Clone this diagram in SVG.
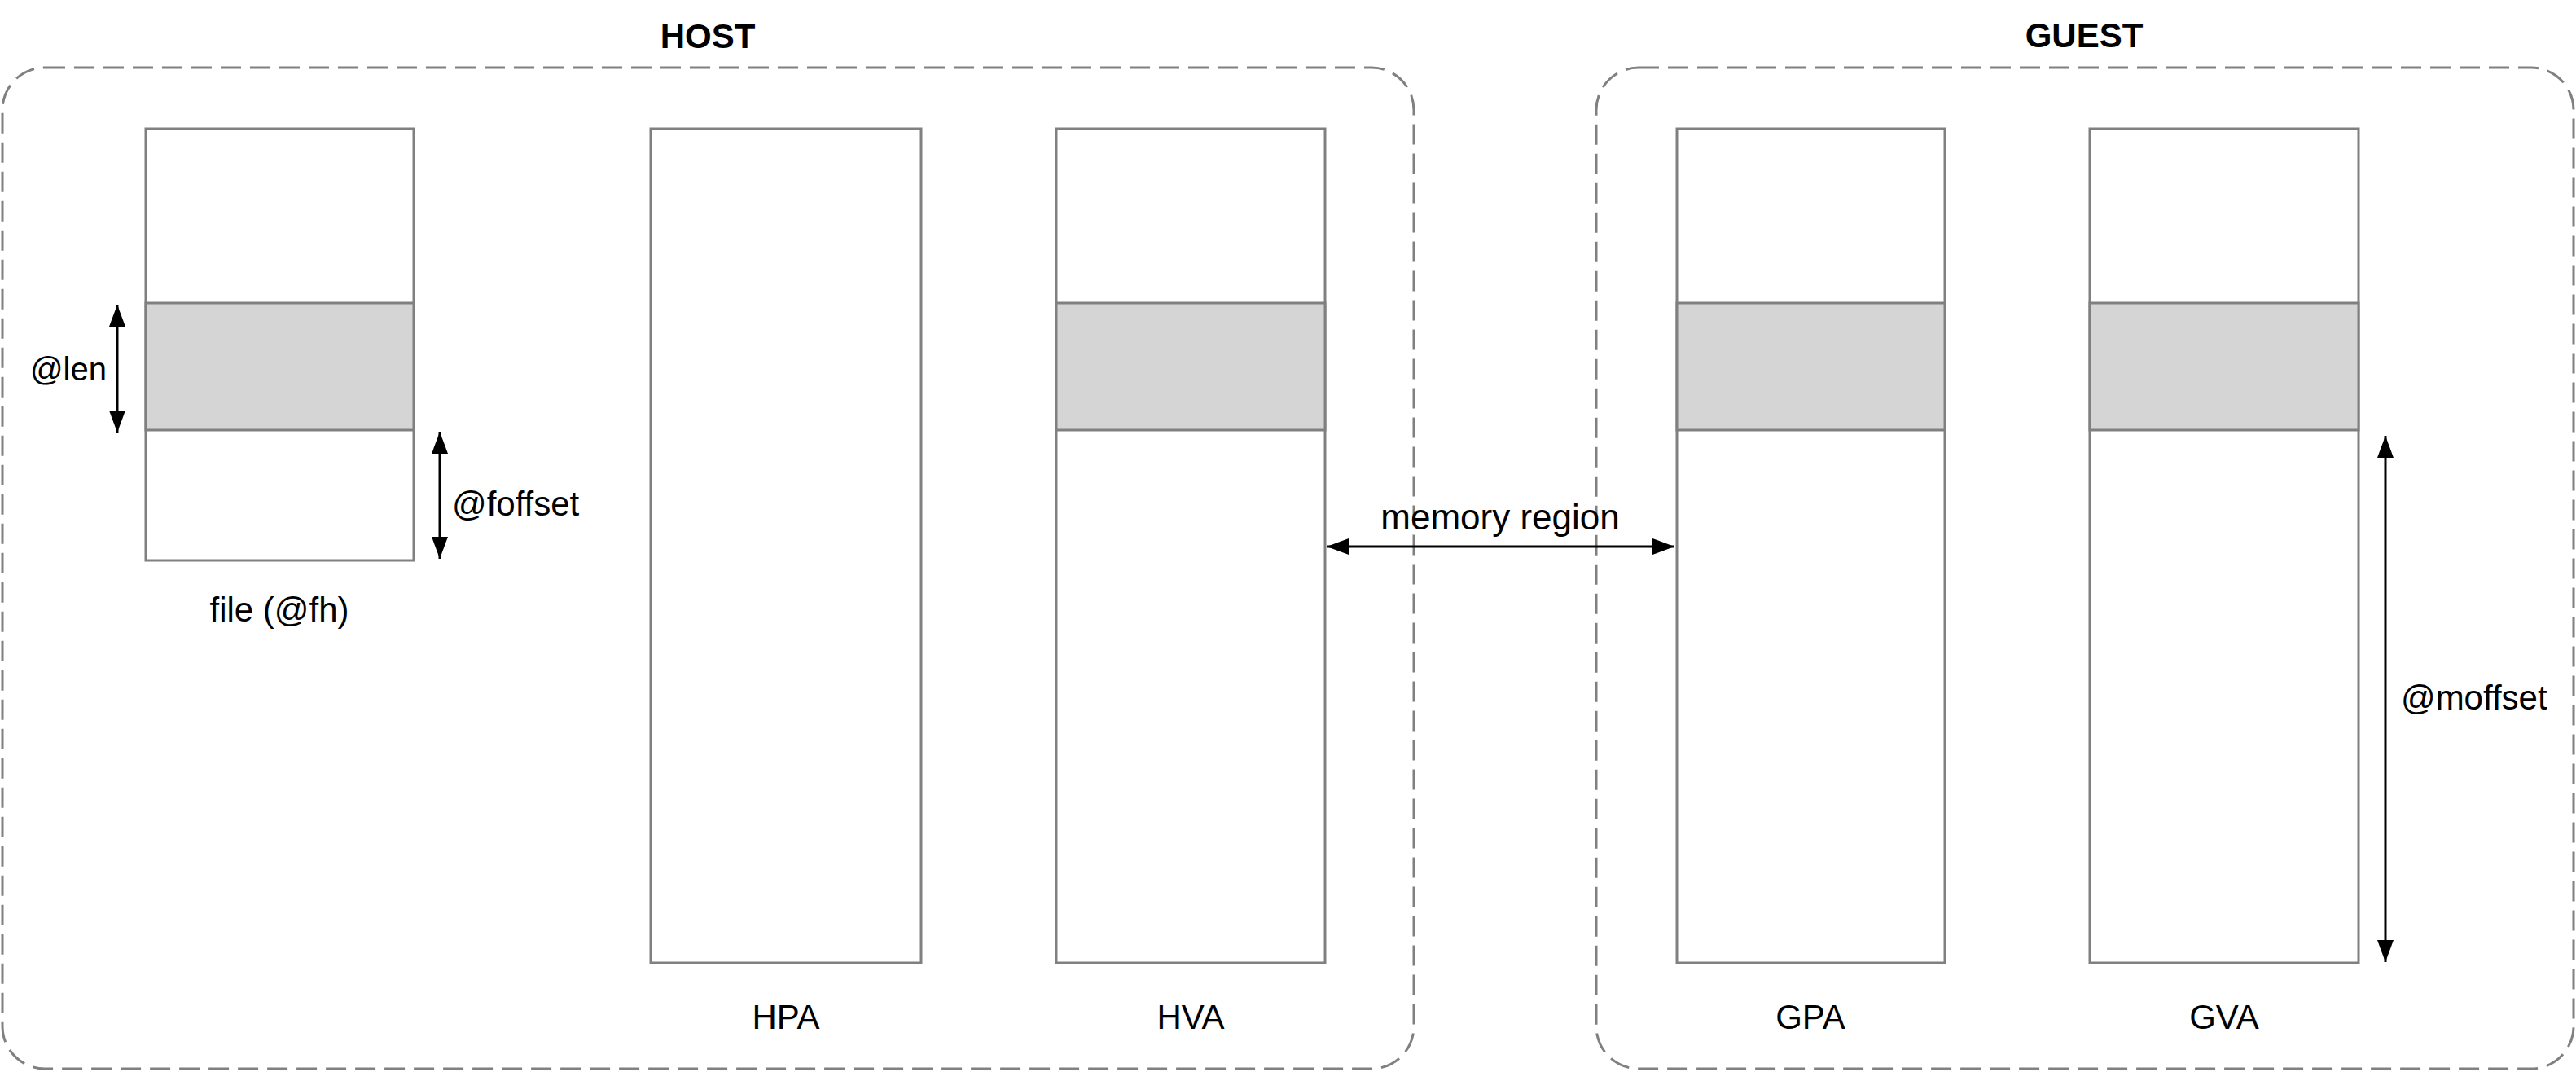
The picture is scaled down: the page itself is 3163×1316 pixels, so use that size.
<svg xmlns="http://www.w3.org/2000/svg" width="3163" height="1316" viewBox="0 0 3163 1316">
  <style>
    .container { fill: none; stroke: #808080; stroke-width: 3; stroke-dasharray: 25 11; }
    .col { fill: #ffffff; stroke: #808080; stroke-width: 3; }
    .band { fill: #d5d5d5; stroke: #808080; stroke-width: 3; }
    .arrow { stroke: #000000; stroke-width: 3; fill: none; marker-start: url(#head); marker-end: url(#head); }
    .lbl { font-family: "Liberation Sans", Arial, Helvetica, sans-serif; font-size: 42px; fill: #000000; }
    .title { font-family: "Liberation Sans", Arial, Helvetica, sans-serif; font-size: 42px; font-weight: bold; fill: #000000; text-anchor: middle; }
    .mid { text-anchor: middle; }
  </style>
  <defs>
    <marker id="head" markerUnits="userSpaceOnUse" markerWidth="28" markerHeight="22" viewBox="0 0 28 22" refX="27" refY="11" orient="auto-start-reverse">
      <path d="M0,1 L27,11 L0,21 z" fill="#000000"/>
    </marker>
  </defs>
  <rect width="3163" height="1316" fill="#ffffff"/>

  <g id="host">
    <rect class="container" x="3" y="83" width="1733" height="1229" rx="52" ry="52"/>
    <text class="title" x="869" y="59">HOST</text>
  </g>
  <g id="guest">
    <rect class="container" x="1960" y="83" width="1200" height="1229" rx="52" ry="52"/>
    <text class="title" x="2559" y="58">GUEST</text>
  </g>

  <g id="file">
    <rect class="col" x="179" y="158" width="329" height="530"/>
    <rect class="band" x="179" y="372" width="329" height="156"/>
    <text class="lbl mid" x="343" y="763">file (@fh)</text>
  </g>
  <g id="hpa">
    <rect class="col" x="799" y="158" width="332" height="1024"/>
    <text class="lbl mid" x="965" y="1263">HPA</text>
  </g>
  <g id="hva">
    <rect class="col" x="1297" y="158" width="330" height="1024"/>
    <rect class="band" x="1297" y="372" width="330" height="156"/>
    <text class="lbl mid" x="1462" y="1263">HVA</text>
  </g>
  <g id="gpa">
    <rect class="col" x="2059" y="158" width="329" height="1024"/>
    <rect class="band" x="2059" y="372" width="329" height="156"/>
    <text class="lbl mid" x="2223" y="1263">GPA</text>
  </g>
  <g id="gva">
    <rect class="col" x="2566" y="158" width="330" height="1024"/>
    <rect class="band" x="2566" y="372" width="330" height="156"/>
    <text class="lbl mid" x="2731" y="1263">GVA</text>
  </g>

  <g id="connectors">
    <line class="arrow" x1="144" y1="374" x2="144" y2="531"/>
    <text class="lbl" x="37" y="467" style="font-size:40px">@len</text>
    <line class="arrow" x1="540" y1="530" x2="540" y2="686"/>
    <text class="lbl" x="555" y="633">@foffset</text>
    <line class="arrow" x1="1629" y1="671" x2="2056" y2="671"/>
    <text class="lbl mid" x="1842" y="650" style="font-size:44px">memory region</text>
    <line class="arrow" x1="2929" y1="535" x2="2929" y2="1181"/>
    <text class="lbl" x="2948" y="871">@moffset</text>
  </g>
</svg>
